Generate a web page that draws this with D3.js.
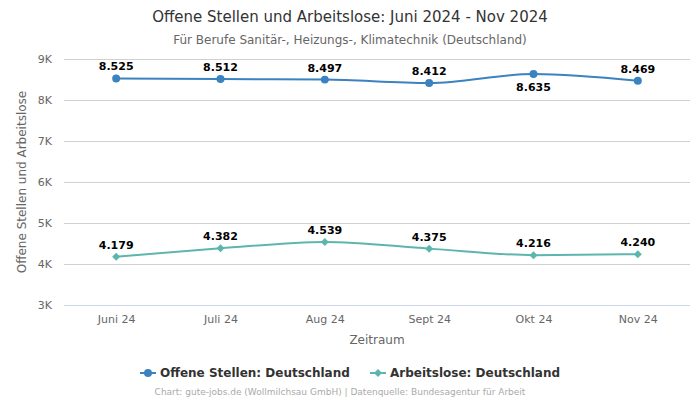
<!DOCTYPE html>
<html><head><meta charset="utf-8">
<script src="https://cdn.jsdelivr.net/npm/d3@7"></script>
<style>body{margin:0;background:#fff;font-family:"DejaVu Sans",sans-serif;}</style>
</head><body><svg id="c" width="700" height="400"></svg>
<script>
const categories = ["Juni 24","Juli 24","Aug 24","Sept 24","Okt 24","Nov 24"];
const offeneStellen = [8525, 8512, 8497, 8412, 8635, 8469];
const arbeitslose = [4179, 4382, 4539, 4375, 4216, 4240];
const yTicks = [3000,4000,5000,6000,7000,8000,9000];
const seriesNames = ["Offene Stellen: Deutschland","Arbeitslose: Deutschland"];
const blue="#3a82c0", teal="#5cb6ae";

const svg=d3.select("#c");
const L=64,R=690,T=59,B=305;
const x=d3.scalePoint().domain(categories).range([L,R]).padding(0.5);
const y=d3.scaleLinear().domain([3000,9000]).range([B,T]);
const fmt=v=>d3.format(",")(v).replace(/,/g,".");

svg.append("text").attr("x",350).attr("y",22).attr("text-anchor","middle").attr("font-size",15).attr("fill","#333").text("Offene Stellen und Arbeitslose: Juni 2024 - Nov 2024");
svg.append("text").attr("x",350).attr("y",44).attr("text-anchor","middle").attr("font-size",12).attr("fill","#666").text("Für Berufe Sanitär-, Heizungs-, Klimatechnik (Deutschland)");

const ya=svg.append("g").attr("transform",`translate(${L},0)`).call(d3.axisLeft(y).tickValues(yTicks).tickSize(-(R-L)).tickFormat(d=>d/1000+"K"));
ya.select(".domain").remove();
ya.selectAll(".tick line").attr("stroke",d=>d===3000?"#ccd6eb":"#d0d0d0");
ya.selectAll(".tick text").attr("x",-12).attr("fill","#666").attr("font-size",11).attr("font-family","DejaVu Sans");

const xa=svg.append("g").attr("transform",`translate(0,${B})`).call(d3.axisBottom(x).tickSize(0).tickPadding(10));
xa.select(".domain").remove();
xa.selectAll(".tick text").attr("fill","#666").attr("font-size",11).attr("font-family","DejaVu Sans");

svg.append("text").attr("x",(L+R)/2).attr("y",344).attr("text-anchor","middle").attr("font-size",12).attr("fill","#666").text("Zeitraum");
svg.append("text").attr("transform",`translate(26,${(T+B)/2}) rotate(-90)`).attr("text-anchor","middle").attr("font-size",12).attr("fill","#666").text("Offene Stellen und Arbeitslose");

const diamond="M0,-4L4,0L0,4L-4,0Z";
const circle=d3.symbol().type(d3.symbolCircle).size(50)();
const line=d3.line().x((d,i)=>x(categories[i])).y(d=>y(d)).curve(d3.curveMonotoneX);
function series(data,color,shape,below){
  svg.append("path").attr("d",line(data)).attr("fill","none").attr("stroke",color).attr("stroke-width",2);
  svg.selectAll(null).data(data).enter().append("path").attr("d",shape)
    .attr("transform",(d,i)=>`translate(${x(categories[i])},${y(d)})`).attr("fill",color);
  svg.selectAll(null).data(data).enter().append("text")
    .attr("x",(d,i)=>x(categories[i])).attr("y",(d,i)=>below[i]?y(d)+17:y(d)-8)
    .attr("text-anchor","middle").attr("font-size",11).attr("font-weight","bold").attr("fill","#000")
    .text(d=>fmt(d));
}
series(offeneStellen,blue,circle,[0,0,0,0,1,0]);
series(arbeitslose,teal,diamond,[0,0,0,0,0,0]);

const lg=[{n:seriesNames[0],c:blue,s:circle,x:140},{n:seriesNames[1],c:teal,s:diamond,x:370}];
lg.forEach(d=>{
  svg.append("line").attr("x1",d.x).attr("x2",d.x+16).attr("y1",373).attr("y2",373).attr("stroke",d.c).attr("stroke-width",2);
  svg.append("path").attr("d",d.s).attr("transform",`translate(${d.x+8},373)`).attr("fill",d.c);
  svg.append("text").attr("x",d.x+20).attr("y",377).attr("font-size",12).attr("font-weight","bold").attr("fill","#333").text(d.n);
});
svg.append("text").attr("x",340).attr("y",395).attr("text-anchor","middle").attr("font-size",9).attr("fill","#aaa").text("Chart: gute-jobs.de (Wollmilchsau GmbH) | Datenquelle: Bundesagentur für Arbeit");
</script></body></html>
